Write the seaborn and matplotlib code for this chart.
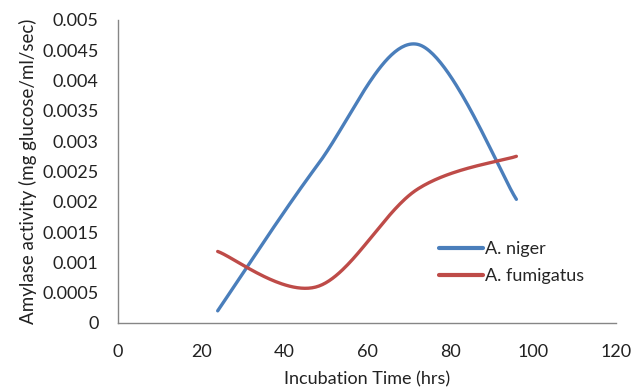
import numpy as np
import pandas as pd
import matplotlib
matplotlib.use("Agg")
import matplotlib.pyplot as plt
import seaborn as sns

hours = [24, 48, 72, 96]
a_niger = [0.0002, 0.0026, 0.0046, 0.00204]
a_fumigatus = [0.00118, 0.0006, 0.0022, 0.00275]
series_names = ["A. niger", "A. fumigatus"]
colors = ["#4A7EBB", "#BE4B48"]
xticks = [0, 20, 40, 60, 80, 100, 120]
yticks = [0, 0.0005, 0.001, 0.0015, 0.002, 0.0025, 0.003, 0.0035, 0.004, 0.0045, 0.005]
ytick_labels = ["0", "0.0005", "0.001", "0.0015", "0.002", "0.0025", "0.003",
                "0.0035", "0.004", "0.0045", "0.005"]


def smooth(xs, ys, n=60):
    """Excel-style smoothed line (cubic Bezier, Catmull-Rom control points)."""
    P = np.column_stack([xs, ys]).astype(float)
    out = []
    for i in range(len(P) - 1):
        p0 = P[i - 1] if i > 0 else P[i]
        p1, p2 = P[i], P[i + 1]
        p3 = P[i + 2] if i + 2 < len(P) else P[i + 1]
        c1 = p1 + (p2 - p0) / 6.0
        c2 = p2 - (p3 - p1) / 6.0
        t = np.linspace(0, 1, n)[:, None]
        seg = ((1 - t) ** 3) * p1 + 3 * ((1 - t) ** 2) * t * c1 + 3 * (1 - t) * t ** 2 * c2 + t ** 3 * p2
        out.append(seg if i == 0 else seg[1:])
    return np.vstack(out)


sns.set_theme(style="white")
plt.rcParams["font.family"] = ["Lato", "DejaVu Sans"]

frames = []
for name, vals in zip(series_names, [a_niger, a_fumigatus]):
    c = smooth(hours, vals)
    frames.append(pd.DataFrame({"x": c[:, 0], "y": c[:, 1], "series": name}))
df = pd.concat(frames, ignore_index=True)

fig = plt.figure(figsize=(6.35, 3.91), dpi=100)
ax = fig.add_axes([0.186, 0.174, 0.784, 0.775])
sns.lineplot(data=df, x="x", y="y", hue="series", palette=colors, sort=False,
             estimator=None, units="series", linewidth=2.4, ax=ax, legend=True)

ax.set_xlim(0, 120)
ax.set_ylim(0, 0.005)
ax.set_xticks(xticks)
ax.set_xticklabels([str(v) for v in xticks])
ax.set_yticks(yticks)
ax.set_yticklabels(ytick_labels)
for s in ["top", "right"]:
    ax.spines[s].set_visible(False)
for s in ["left", "bottom"]:
    ax.spines[s].set_color("#868686")
    ax.spines[s].set_linewidth(1.0)
ax.tick_params(axis="both", which="major", direction="out", length=6, width=1,
               color="#868686", labelsize=13, labelcolor="#222222")
ax.tick_params(axis="y", pad=8)
ax.tick_params(axis="x", pad=9)
ax.set_xlabel("Incubation Time (hrs)", fontsize=13, color="#222222", labelpad=8)
ax.set_ylabel("Amylase activity (mg glucose/ml/sec)", fontsize=13.5, color="#222222", labelpad=4)

leg = ax.legend(loc="upper left", bbox_to_anchor=(0.645, 0.27), frameon=False,
                fontsize=13, handlelength=2.4, handletextpad=0.15, borderaxespad=0,
                borderpad=0, labelspacing=0.6)
for line in leg.get_lines():
    line.set_linewidth(3)

fig.savefig("out.png", dpi=100)
